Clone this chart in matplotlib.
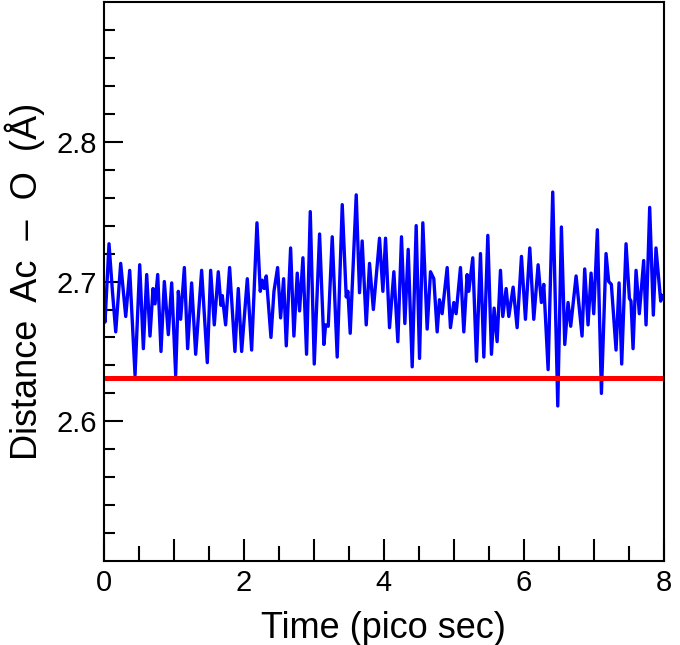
import numpy as np
import matplotlib
matplotlib.use("Agg")
import matplotlib.pyplot as plt
from matplotlib.ticker import MultipleLocator, FuncFormatter

plt.rcParams['font.family'] = ['Liberation Sans', 'DejaVu Sans']

# distance trace (turning points)
time_ps = [0.0, 0.014, 0.071, 0.12, 0.167, 0.238, 0.31, 0.367, 0.443, 0.51,
           0.562, 0.61, 0.657, 0.70, 0.729, 0.767, 0.814, 0.862, 0.919, 0.967,
           1.024, 1.062, 1.095, 1.148, 1.195, 1.252, 1.31, 1.395, 1.476, 1.524,
           1.576, 1.633, 1.671, 1.69, 1.738, 1.795, 1.871, 1.919, 1.967, 2.048,
           2.11, 2.186, 2.233, 2.262, 2.29, 2.319, 2.386, 2.429, 2.481, 2.524,
           2.567, 2.605, 2.667, 2.714, 2.762, 2.795, 2.843, 2.895, 2.948, 3.005,
           3.081, 3.143, 3.167, 3.205, 3.262, 3.333, 3.405, 3.462, 3.486, 3.519,
           3.605, 3.652, 3.69, 3.748, 3.795, 3.85, 3.938, 3.986, 4.024, 4.081,
           4.143, 4.2, 4.252, 4.3, 4.348, 4.405, 4.462, 4.51, 4.557, 4.619,
           4.667, 4.714, 4.762, 4.795, 4.833, 4.905, 4.952, 5.0, 5.033, 5.095,
           5.143, 5.19, 5.214, 5.271, 5.324, 5.381, 5.429, 5.486, 5.538, 5.576,
           5.619, 5.667, 5.7, 5.748, 5.786, 5.848, 5.905, 5.967, 6.024, 6.086,
           6.143, 6.205, 6.252, 6.286, 6.348, 6.414, 6.486, 6.538, 6.586, 6.633,
           6.671, 6.748, 6.833, 6.871, 6.919, 6.962, 7.0, 7.052, 7.11, 7.176,
           7.214, 7.252, 7.319, 7.362, 7.4, 7.462, 7.51, 7.533, 7.562, 7.605,
           7.652, 7.714, 7.748, 7.8, 7.852, 7.89, 7.957, 7.98]
distance = [2.69, 2.671, 2.727, 2.693, 2.664, 2.713, 2.675, 2.708, 2.633, 2.712,
            2.652, 2.705, 2.661, 2.695, 2.684, 2.705, 2.65, 2.70, 2.662, 2.699,
            2.633, 2.693, 2.673, 2.71, 2.652, 2.699, 2.648, 2.708, 2.642, 2.708,
            2.669, 2.707, 2.683, 2.69, 2.669, 2.71, 2.65, 2.695, 2.65, 2.702,
            2.651, 2.742, 2.693, 2.701, 2.695, 2.704, 2.66, 2.693, 2.71, 2.674,
            2.702, 2.654, 2.724, 2.661, 2.706, 2.679, 2.717, 2.648, 2.75, 2.641,
            2.734, 2.655, 2.669, 2.668, 2.732, 2.646, 2.755, 2.689, 2.693, 2.663,
            2.762, 2.692, 2.729, 2.669, 2.713, 2.68, 2.731, 2.693, 2.731, 2.667,
            2.707, 2.657, 2.732, 2.67, 2.723, 2.639, 2.74, 2.645, 2.742, 2.666,
            2.707, 2.702, 2.664, 2.687, 2.677, 2.71, 2.667, 2.685, 2.677, 2.71,
            2.664, 2.705, 2.693, 2.717, 2.643, 2.72, 2.646, 2.733, 2.648, 2.681,
            2.657, 2.708, 2.675, 2.695, 2.675, 2.696, 2.667, 2.718, 2.673, 2.724,
            2.673, 2.712, 2.685, 2.698, 2.637, 2.764, 2.611, 2.739, 2.655, 2.685,
            2.668, 2.704, 2.661, 2.709, 2.669, 2.706, 2.677, 2.737, 2.62, 2.72,
            2.70, 2.698, 2.651, 2.699, 2.641, 2.727, 2.688, 2.686, 2.652, 2.708,
            2.677, 2.715, 2.669, 2.753, 2.676, 2.724, 2.686, 2.69]

ref_distance = 2.631

fig = plt.figure(figsize=(6.8, 6.45), dpi=100)
ax = fig.add_axes([0.153, 0.130, 0.823, 0.867])

ax.plot(time_ps, distance, color='#0000ff', lw=2.4, solid_joinstyle='round')
ax.axhline(ref_distance, color='#ff0000', lw=3.6)

ax.set_xlim(0, 8)
ax.set_ylim(2.5, 2.9)

ax.xaxis.set_major_locator(MultipleLocator(1))
ax.xaxis.set_minor_locator(MultipleLocator(0.5))
ax.xaxis.set_major_formatter(FuncFormatter(lambda v, p: '%d' % v if round(v) % 2 == 0 else ''))
ax.set_yticks([2.6, 2.7, 2.8])
ax.set_yticklabels(['2.6', '2.7', '2.8'])
ax.set_yticks(np.arange(2.52, 2.89, 0.02), minor=True)

ax.tick_params(axis='both', which='both', direction='in', width=1.5, labelsize=21, colors='black')
ax.tick_params(axis='x', which='major', length=16, pad=6)
ax.tick_params(axis='x', which='minor', length=11)
ax.tick_params(axis='y', which='major', length=14, pad=5)
ax.tick_params(axis='y', which='minor', length=8)
ax.tick_params(top=False, right=False, which='both')

for s in ax.spines.values():
    s.set_linewidth(1.5)

ax.set_xlabel('Time (pico sec)', fontsize=26, labelpad=10)
ax.set_ylabel('Distance  Ac  –  O  (Å)', fontsize=26, labelpad=8)

fig.savefig('out.png', dpi=100)
